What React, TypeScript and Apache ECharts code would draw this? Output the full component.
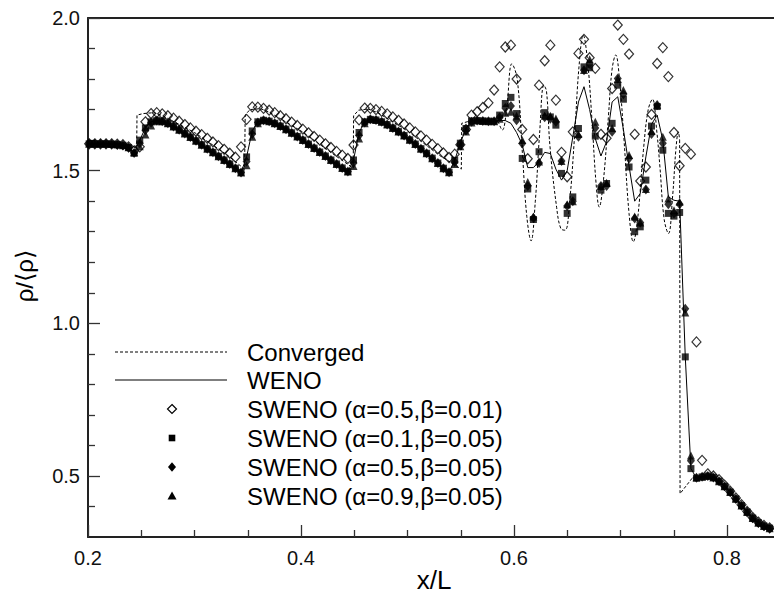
import React, { useEffect, useRef } from "react";
import * as echarts from "echarts";

const FONT = "'Liberation Sans', Arial, Helvetica, 'DejaVu Sans', sans-serif";

// x tick marks / labels
const xMajorTicks = [0.2, 0.4, 0.6, 0.8];
const xMinorTicks = [0.25, 0.3, 0.35, 0.45, 0.5, 0.55, 0.65, 0.7, 0.75];
const yMajorTicks = [0.5, 1.0, 1.5, 2.0];
const yMinorTicks = [0.4, 0.6, 0.7, 0.8, 0.9, 1.1, 1.2, 1.3, 1.4, 1.6, 1.7, 1.8, 1.9];

// grid (cell centres) of the discrete solutions
const xGrid = [
  0.2011, 0.2064, 0.2117, 0.2169, 0.2222, 0.2275, 0.2328, 0.2381, 0.2433, 0.2486,
  0.2539, 0.2592, 0.2645, 0.2697, 0.2750, 0.2803, 0.2856, 0.2909, 0.2961, 0.3014,
  0.3067, 0.3120, 0.3173, 0.3225, 0.3278, 0.3331, 0.3384, 0.3437, 0.3489, 0.3542,
  0.3595, 0.3648, 0.3701, 0.3753, 0.3806, 0.3859, 0.3912, 0.3965, 0.4017, 0.4070,
  0.4123, 0.4176, 0.4229, 0.4281, 0.4334, 0.4387, 0.4440, 0.4493, 0.4545, 0.4598,
  0.4651, 0.4704, 0.4757, 0.4809, 0.4862, 0.4915, 0.4968, 0.5021, 0.5073, 0.5126,
  0.5179, 0.5232, 0.5285, 0.5337, 0.5390, 0.5443, 0.5496, 0.5549, 0.5601, 0.5654,
  0.5707, 0.5760, 0.5813, 0.5865, 0.5918, 0.5971, 0.6024, 0.6077, 0.6129, 0.6182,
  0.6235, 0.6288, 0.6341, 0.6393, 0.6446, 0.6499, 0.6552, 0.6605, 0.6657, 0.6710,
  0.6763, 0.6816, 0.6869, 0.6921, 0.6974, 0.7027, 0.7080, 0.7133, 0.7185, 0.7238,
  0.7291, 0.7344, 0.7397, 0.7449, 0.7502, 0.7555, 0.7608, 0.7661, 0.7713, 0.7766,
  0.7819, 0.7872, 0.7925, 0.7977, 0.8030, 0.8083, 0.8136, 0.8189, 0.8241, 0.8294,
  0.8347, 0.8400,
];

// WENO (solid line)
const wenoY = [
  1.588, 1.588, 1.588, 1.588, 1.587, 1.586, 1.583, 1.576, 1.557, 1.600,
  1.640, 1.660, 1.664, 1.662, 1.655, 1.645, 1.634, 1.622, 1.610, 1.598,
  1.585, 1.572, 1.560, 1.547, 1.535, 1.522, 1.508, 1.494, 1.545, 1.630,
  1.660, 1.665, 1.662, 1.655, 1.646, 1.636, 1.624, 1.612, 1.600, 1.587,
  1.574, 1.561, 1.548, 1.535, 1.522, 1.509, 1.497, 1.535, 1.625, 1.660,
  1.668, 1.666, 1.660, 1.651, 1.640, 1.628, 1.615, 1.601, 1.587, 1.572,
  1.557, 1.541, 1.525, 1.508, 1.495, 1.534, 1.590, 1.638, 1.663, 1.664,
  1.663, 1.662, 1.662, 1.665, 1.664, 1.655, 1.625, 1.585, 1.510, 1.510,
  1.530, 1.560, 1.556, 1.505, 1.469, 1.500, 1.610, 1.725, 1.775, 1.700,
  1.605, 1.548, 1.595, 1.725, 1.742, 1.635, 1.515, 1.400, 1.425, 1.545,
  1.652, 1.682, 1.600, 1.414, 1.403, 1.400, 0.890, 0.524, 0.493, 0.497,
  0.500, 0.495, 0.483, 0.466, 0.447, 0.425, 0.403, 0.382, 0.362, 0.347,
  0.336, 0.329,
];

// SWENO (alpha=0.5, beta=0.01) open diamonds
const swenoA05B001 = [
  1.588, 1.588, 1.588, 1.588, 1.588, 1.587, 1.585, 1.578, 1.565, 1.578,
  1.660, 1.687, 1.690, 1.686, 1.680, 1.672, 1.662, 1.651, 1.640, 1.629,
  1.618, 1.606, 1.594, 1.582, 1.570, 1.557, 1.544, 1.578, 1.668, 1.709,
  1.708, 1.704, 1.698, 1.690, 1.680, 1.670, 1.659, 1.648, 1.636, 1.624,
  1.612, 1.600, 1.588, 1.576, 1.563, 1.551, 1.540, 1.584, 1.666, 1.705,
  1.704, 1.700, 1.694, 1.686, 1.676, 1.665, 1.653, 1.640, 1.627, 1.614,
  1.600, 1.586, 1.572, 1.558, 1.543, 1.554, 1.585, 1.635, 1.682, 1.693,
  1.707, 1.722, 1.764, 1.840, 1.905, 1.911, 1.800, 1.635, 1.539, 1.602,
  1.780, 1.860, 1.911, 1.731, 1.560, 1.480, 1.627, 1.884, 1.930, 1.870,
  1.835, 1.619, 1.606, 1.769, 1.977, 1.930, 1.882, 1.619, 1.466, 1.512,
  1.684, 1.851, 1.903, 1.808, 1.625, 1.516, 1.573, 1.554, 0.939, 0.551,
  0.507, 0.500, 0.488, 0.470, 0.450, 0.428, 0.406, 0.384, 0.364, 0.349,
  0.338, 0.330,
];

// SWENO (alpha=0.1, beta=0.05) squares
const swenoA01B005 = [
  1.588, 1.588, 1.588, 1.588, 1.587, 1.586, 1.583, 1.576, 1.557, 1.600,
  1.640, 1.660, 1.664, 1.662, 1.655, 1.645, 1.634, 1.622, 1.610, 1.598,
  1.585, 1.572, 1.560, 1.547, 1.535, 1.522, 1.508, 1.494, 1.545, 1.630,
  1.660, 1.665, 1.662, 1.655, 1.646, 1.636, 1.624, 1.612, 1.600, 1.587,
  1.574, 1.561, 1.548, 1.535, 1.522, 1.509, 1.497, 1.535, 1.625, 1.660,
  1.668, 1.666, 1.660, 1.651, 1.640, 1.628, 1.615, 1.601, 1.587, 1.572,
  1.557, 1.541, 1.525, 1.508, 1.495, 1.534, 1.590, 1.638, 1.663, 1.664,
  1.663, 1.662, 1.662, 1.682, 1.720, 1.740, 1.687, 1.540, 1.440, 1.340,
  1.562, 1.690, 1.676, 1.649, 1.491, 1.360, 1.414, 1.638, 1.840, 1.837,
  1.613, 1.436, 1.458, 1.655, 1.780, 1.734, 1.512, 1.300, 1.316, 1.469,
  1.646, 1.710, 1.567, 1.360, 1.351, 1.363, 0.890, 0.524, 0.493, 0.497,
  0.500, 0.495, 0.483, 0.466, 0.447, 0.425, 0.403, 0.382, 0.362, 0.347,
  0.336, 0.329,
];

// SWENO (alpha=0.5, beta=0.05) filled diamonds
const swenoA05B005 = [
  1.588, 1.588, 1.588, 1.588, 1.587, 1.586, 1.583, 1.576, 1.558, 1.590,
  1.632, 1.657, 1.664, 1.662, 1.655, 1.645, 1.634, 1.622, 1.610, 1.598,
  1.585, 1.572, 1.560, 1.547, 1.535, 1.522, 1.508, 1.494, 1.530, 1.620,
  1.658, 1.665, 1.662, 1.655, 1.646, 1.636, 1.624, 1.612, 1.600, 1.587,
  1.574, 1.561, 1.548, 1.535, 1.522, 1.509, 1.497, 1.525, 1.615, 1.658,
  1.668, 1.666, 1.660, 1.651, 1.640, 1.628, 1.615, 1.601, 1.587, 1.572,
  1.557, 1.541, 1.525, 1.508, 1.495, 1.528, 1.585, 1.632, 1.660, 1.664,
  1.663, 1.662, 1.662, 1.675, 1.705, 1.712, 1.665, 1.589, 1.450, 1.345,
  1.525, 1.675, 1.670, 1.660, 1.532, 1.384, 1.400, 1.611, 1.829, 1.850,
  1.640, 1.450, 1.450, 1.627, 1.802, 1.750, 1.540, 1.343, 1.330, 1.438,
  1.620, 1.715, 1.590, 1.390, 1.360, 1.390, 1.048, 0.550, 0.494, 0.497,
  0.500, 0.495, 0.483, 0.466, 0.447, 0.425, 0.403, 0.382, 0.362, 0.347,
  0.336, 0.329,
];

// SWENO (alpha=0.9, beta=0.05) triangles
const swenoA09B005 = [
  1.588, 1.588, 1.588, 1.588, 1.587, 1.586, 1.583, 1.577, 1.560, 1.580,
  1.618, 1.648, 1.662, 1.662, 1.655, 1.645, 1.634, 1.622, 1.610, 1.598,
  1.585, 1.572, 1.560, 1.547, 1.535, 1.522, 1.508, 1.494, 1.518, 1.611,
  1.655, 1.665, 1.662, 1.655, 1.646, 1.636, 1.624, 1.612, 1.600, 1.587,
  1.574, 1.561, 1.548, 1.535, 1.522, 1.509, 1.497, 1.515, 1.605, 1.655,
  1.668, 1.666, 1.660, 1.651, 1.640, 1.628, 1.615, 1.601, 1.587, 1.572,
  1.557, 1.541, 1.525, 1.508, 1.495, 1.522, 1.580, 1.628, 1.658, 1.664,
  1.663, 1.662, 1.662, 1.670, 1.690, 1.693, 1.680, 1.600, 1.463, 1.350,
  1.530, 1.680, 1.680, 1.671, 1.532, 1.390, 1.400, 1.620, 1.830, 1.865,
  1.660, 1.450, 1.460, 1.640, 1.800, 1.764, 1.551, 1.350, 1.330, 1.440,
  1.630, 1.715, 1.611, 1.409, 1.370, 1.398, 1.035, 0.567, 0.495, 0.497,
  0.500, 0.495, 0.483, 0.466, 0.447, 0.425, 0.403, 0.382, 0.362, 0.347,
  0.336, 0.329,
];

// Converged solution (dashed), in three pieces
const convergedSaw = [
  [0.200, 1.588], [0.236, 1.587], [0.242, 1.580], [0.2457, 1.572], [0.2460, 1.682],
  [0.252, 1.687], [0.262, 1.690], [0.270, 1.680], [0.300, 1.625], [0.330, 1.553],
  [0.3470, 1.505], [0.3476, 1.682], [0.352, 1.700], [0.362, 1.703], [0.370, 1.692],
  [0.400, 1.630], [0.430, 1.555], [0.4490, 1.508], [0.4494, 1.680], [0.454, 1.698],
  [0.463, 1.702], [0.472, 1.690], [0.500, 1.630], [0.530, 1.550], [0.5505, 1.505],
  [0.5509, 1.655], [0.560, 1.664], [0.585, 1.662],
];
const convergedWave = [
  [0.585, 1.662], [0.589, 1.633], [0.593, 1.70], [0.598, 1.85], [0.603, 1.80],
  [0.608, 1.55], [0.612, 1.35], [0.616, 1.27], [0.620, 1.40], [0.624, 1.62],
  [0.628, 1.78], [0.6305, 1.76], [0.6338, 1.578], [0.640, 1.38], [0.644, 1.31],
  [0.648, 1.305], [0.652, 1.39], [0.657, 1.622], [0.661, 1.84], [0.665, 1.944],
  [0.669, 1.86], [0.673, 1.676], [0.677, 1.46], [0.680, 1.381], [0.684, 1.47],
  [0.6886, 1.676], [0.692, 1.83], [0.6955, 1.879], [0.699, 1.80], [0.7033, 1.60],
  [0.708, 1.36], [0.712, 1.267], [0.716, 1.34], [0.7215, 1.567], [0.726, 1.70],
  [0.730, 1.734], [0.734, 1.63], [0.737, 1.512], [0.741, 1.34], [0.745, 1.294],
  [0.749, 1.42], [0.752, 1.57], [0.7543, 1.627], [0.7555, 1.60],
];
const convergedShock = [
  [0.7555, 1.60], [0.7559, 0.442], [0.768, 0.496], [0.7766, 0.497], [0.7819, 0.500],
  [0.7872, 0.495], [0.7925, 0.483], [0.7977, 0.466], [0.8030, 0.447], [0.8083, 0.425],
  [0.8136, 0.403], [0.8189, 0.382], [0.8241, 0.362], [0.8294, 0.347], [0.8347, 0.336],
  [0.8441, 0.326],
];

const legendNames = [
  "Converged",
  "WENO",
  "SWENO (\u03b1=0.5,\u03b2=0.01)",
  "SWENO (\u03b1=0.1,\u03b2=0.05)",
  "SWENO (\u03b1=0.5,\u03b2=0.05)",
  "SWENO (\u03b1=0.9,\u03b2=0.05)",
];

const X_MIN = 0.2;
const X_MAX = 0.8441;
const Y_MIN = 0.3;
const Y_MAX = 2.0;

function pairs(ys: number[]) {
  return xGrid.map((x, i) => [x, ys[i]]);
}

function buildOption() {
  const axisColor = "#222";
  const lineSeries = (name: string, data: number[][], dashed: boolean, smooth: number | boolean) => ({
    type: "line",
    name,
    data,
    symbol: "none",
    smooth,
    silent: true,
    lineStyle: { color: "#000", width: 1, type: dashed ? [3, 2] : "solid" },
    z: 2,
  });

  const rowY = [352, 380, 409, 438, 467, 496];
  const lx = 172;
  const legendGraphics: any[] = [
    {
      type: "line",
      shape: { x1: 115, y1: rowY[0], x2: 227, y2: rowY[0] },
      style: { stroke: "#000", lineWidth: 1, lineDash: [3, 2] },
    },
    {
      type: "line",
      shape: { x1: 115, y1: rowY[1], x2: 227, y2: rowY[1] },
      style: { stroke: "#000", lineWidth: 1.2 },
    },
    {
      type: "polygon",
      shape: { points: [[lx, rowY[2] - 4.5], [lx + 4.5, rowY[2]], [lx, rowY[2] + 4.5], [lx - 4.5, rowY[2]]] },
      style: { fill: "none", stroke: "#000", lineWidth: 1.2 },
    },
    {
      type: "rect",
      shape: { x: lx - 3.3, y: rowY[3] - 3.3, width: 6.6, height: 6.6 },
      style: { fill: "#000" },
    },
    {
      type: "polygon",
      shape: { points: [[lx, rowY[4] - 4.8], [lx + 4, rowY[4]], [lx, rowY[4] + 4.8], [lx - 4, rowY[4]]] },
      style: { fill: "#000" },
    },
    {
      type: "polygon",
      shape: { points: [[lx, rowY[5] - 4.5], [lx + 4.5, rowY[5] + 3.5], [lx - 4.5, rowY[5] + 3.5]] },
      style: { fill: "#000" },
    },
    ...legendNames.map((t, i) => ({
      type: "text",
      x: 247,
      y: rowY[i],
      style: {
        text: t,
        font: `24px ${FONT}`,
        fill: "#000",
        textAlign: "left",
        textVerticalAlign: "middle",
      },
    })),
    {
      type: "text",
      x: 24,
      y: 276,
      rotation: Math.PI / 2,
      style: {
        text: "\u03c1/\u27e8\u03c1\u27e9",
        font: `24px ${FONT}`,
        fill: "#000",
        textAlign: "center",
        textVerticalAlign: "middle",
      },
    },
    {
      type: "text",
      x: 434,
      y: 580,
      style: {
        text: "x/L",
        font: `26px ${FONT}`,
        fill: "#000",
        textAlign: "center",
        textVerticalAlign: "middle",
      },
    },
  ];

  return {
    animation: false,
    backgroundColor: "#fff",
    grid: { left: 88, right: 0, top: 18, bottom: 60 },
    xAxis: [
      {
        type: "value",
        min: X_MIN,
        max: X_MAX,
        position: "bottom",
        axisLine: { show: true, onZero: false, lineStyle: { color: axisColor, width: 2 } },
        axisTick: { show: true, inside: true, length: 12, customValues: xMajorTicks, lineStyle: { color: "#333", width: 1.3 } },
        axisLabel: {
          show: true,
          customValues: xMajorTicks,
          formatter: (v: number) => v.toFixed(1),
          fontSize: 20,
          fontFamily: FONT,
          color: "#111",
          margin: 11,
        },
        splitLine: { show: false },
      },
      {
        type: "value",
        min: X_MIN,
        max: X_MAX,
        position: "bottom",
        axisLine: { show: false, onZero: false },
        axisTick: { show: true, inside: true, length: 7, customValues: xMinorTicks, lineStyle: { color: "#333", width: 1.3 } },
        axisLabel: { show: false },
        splitLine: { show: false },
      },
      {
        type: "value",
        min: X_MIN,
        max: X_MAX,
        position: "top",
        axisLine: { show: true, onZero: false, lineStyle: { color: axisColor, width: 2 } },
        axisTick: { show: false },
        axisLabel: { show: false },
        splitLine: { show: false },
      },
    ],
    yAxis: [
      {
        type: "value",
        min: Y_MIN,
        max: Y_MAX,
        position: "left",
        axisLine: { show: true, onZero: false, lineStyle: { color: axisColor, width: 2 } },
        axisTick: { show: true, inside: true, length: 12, customValues: yMajorTicks, lineStyle: { color: "#333", width: 1.3 } },
        axisLabel: {
          show: true,
          customValues: yMajorTicks,
          formatter: (v: number) => v.toFixed(1),
          fontSize: 20,
          fontFamily: FONT,
          color: "#111",
          margin: 8,
        },
        splitLine: { show: false },
      },
      {
        type: "value",
        min: Y_MIN,
        max: Y_MAX,
        position: "left",
        axisLine: { show: false, onZero: false },
        axisTick: { show: true, inside: true, length: 7, customValues: yMinorTicks, lineStyle: { color: "#333", width: 1.3 } },
        axisLabel: { show: false },
        splitLine: { show: false },
      },
    ],
    series: [
      lineSeries(legendNames[0], convergedSaw, true, false),
      lineSeries(legendNames[0], convergedWave, true, 0.4),
      lineSeries(legendNames[0], convergedShock, true, false),
      lineSeries(legendNames[1], pairs(wenoY), false, false),
      {
        type: "scatter",
        name: legendNames[2],
        data: pairs(swenoA05B001),
        symbol: "diamond",
        symbolSize: [9, 10],
        silent: true,
        itemStyle: { color: "rgba(0,0,0,0)", borderColor: "#000", borderWidth: 1.2 },
        z: 3,
      },
      {
        type: "scatter",
        name: legendNames[3],
        data: pairs(swenoA01B005),
        symbol: "rect",
        symbolSize: 7,
        silent: true,
        itemStyle: { color: "#000" },
        z: 4,
      },
      {
        type: "scatter",
        name: legendNames[4],
        data: pairs(swenoA05B005),
        symbol: "diamond",
        symbolSize: [8, 10],
        silent: true,
        itemStyle: { color: "#000" },
        z: 5,
      },
      {
        type: "scatter",
        name: legendNames[5],
        data: pairs(swenoA09B005),
        symbol: "triangle",
        symbolSize: [8, 8],
        silent: true,
        itemStyle: { color: "#000" },
        z: 6,
      },
    ],
    graphic: legendGraphics,
  };
}

export default function App() {
  const ref = useRef<HTMLDivElement>(null);
  useEffect(() => {
    document.body.style.margin = "0";
    const chart = echarts.init(ref.current!, null, { renderer: "svg" });
    chart.setOption(buildOption() as any);
    return () => chart.dispose();
  }, []);
  return <div ref={ref} style={{ width: 774, height: 597 }} />;
}
